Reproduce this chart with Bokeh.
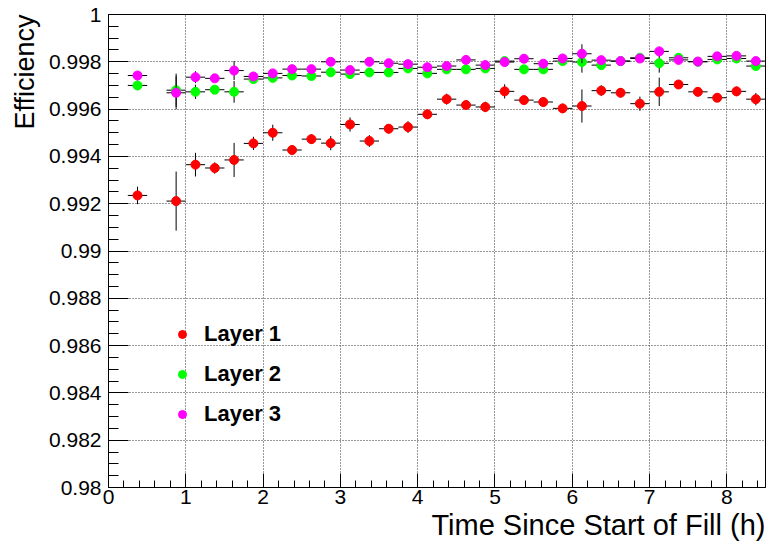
import numpy as np
from bokeh.plotting import figure
from bokeh.models import (FixedTicker, CustomJSTickFormatter, Legend, Title,
                          LegendItem, Range1d, ColumnDataSource)
from bokeh.embed import file_html
from bokeh.resources import INLINE

# ---------------- data ----------------
time_h = [0.375, 0.875, 1.125, 1.375, 1.625, 1.875, 2.125, 2.375, 2.625, 2.875,
          3.125, 3.375, 3.625, 3.875, 4.125, 4.375, 4.625, 4.875, 5.125, 5.375,
          5.625, 5.875, 6.125, 6.375, 6.625, 6.875, 7.125, 7.375, 7.625, 7.875,
          8.125, 8.375]
time_err = 0.125

layer1 = [0.99235, 0.99211, 0.99365, 0.99351, 0.99385, 0.99455, 0.99500, 0.99427,
          0.99473, 0.99456, 0.99535, 0.99465, 0.99517, 0.99524, 0.99578, 0.99642,
          0.99617, 0.99609, 0.99675, 0.99638, 0.99630, 0.99603, 0.99613, 0.99678,
          0.99669, 0.99623, 0.99673, 0.99704, 0.99673, 0.99648, 0.99675, 0.99642]
layer1_err = [0.00037, 0.00125, 0.00050, 0.00024, 0.00072, 0.00028, 0.00034, 0.00020,
              0.00020, 0.00030, 0.00030, 0.00025, 0.00020, 0.00025, 0.00020, 0.00023,
              0.00020, 0.00022, 0.00030, 0.00018, 0.00020, 0.00020, 0.00070, 0.00023,
              0.00020, 0.00030, 0.00060, 0.00018, 0.00020, 0.00018, 0.00020, 0.00026]

layer2 = [0.99700, 0.99680, 0.99673, 0.99682, 0.99673, 0.99727, 0.99732, 0.99742,
          0.99740, 0.99756, 0.99748, 0.99755, 0.99755, 0.99772, 0.99751, 0.99768,
          0.99768, 0.99772, 0.99803, 0.99768, 0.99768, 0.99803, 0.99799, 0.99786,
          0.99803, 0.99817, 0.99794, 0.99817, 0.99800, 0.99810, 0.99814, 0.99782]
layer2_err = [0.00020, 0.00070, 0.00030, 0.00012, 0.00046, 0.00012, 0.00012, 0.00012,
              0.00012, 0.00012, 0.00012, 0.00012, 0.00012, 0.00012, 0.00012, 0.00012,
              0.00012, 0.00012, 0.00012, 0.00012, 0.00012, 0.00012, 0.00045, 0.00012,
              0.00012, 0.00012, 0.00040, 0.00012, 0.00012, 0.00012, 0.00012, 0.00012]

layer3 = [0.99742, 0.99669, 0.99735, 0.99730, 0.99763, 0.99738, 0.99751, 0.99769,
          0.99769, 0.99800, 0.99765, 0.99800, 0.99794, 0.99790, 0.99777, 0.99782,
          0.99808, 0.99786, 0.99799, 0.99813, 0.99792, 0.99814, 0.99834, 0.99807,
          0.99803, 0.99814, 0.99844, 0.99808, 0.99801, 0.99823, 0.99825, 0.99803]
layer3_err = [0.00015, 0.00070, 0.00025, 0.00012, 0.00040, 0.00012, 0.00012, 0.00012,
              0.00012, 0.00012, 0.00012, 0.00012, 0.00012, 0.00012, 0.00012, 0.00012,
              0.00012, 0.00012, 0.00012, 0.00012, 0.00012, 0.00012, 0.00040, 0.00012,
              0.00012, 0.00012, 0.00020, 0.00012, 0.00012, 0.00012, 0.00012, 0.00012]

series_names = ["Layer 1", "Layer 2", "Layer 3"]
series_colors = ["#ff0000", "#00ff00", "#ff00ff"]

x_ticks = [0, 1, 2, 3, 4, 5, 6, 7, 8]
y_ticks = [0.98, 0.982, 0.984, 0.986, 0.988, 0.99, 0.992, 0.994, 0.996, 0.998, 1.0]

x_label = "Time Since Start of Fill (h)"
y_label = "Efficiency"

# ---------------- figure ----------------
FONT = "Liberation Sans"
p = figure(width=768, height=547, title=None,
           x_range=Range1d(0, 8.5), y_range=Range1d(0.98, 1.0),
           output_backend="svg", toolbar_location=None,
           min_border_left=108, min_border_right=3,
           min_border_top=14, min_border_bottom=60)
p.background_fill_color = "white"
p.border_fill_color = "white"
p.outline_line_color = "black"
p.outline_line_width = 1

x_minor = list(np.round(np.arange(0, 8.5001, 0.2), 4))
y_minor = list(np.round(np.arange(0.98, 1.00001, 0.0005), 6))
p.xaxis.ticker = FixedTicker(ticks=x_ticks, minor_ticks=x_minor)
p.yaxis.ticker = FixedTicker(ticks=y_ticks, minor_ticks=y_minor)
p.yaxis.formatter = CustomJSTickFormatter(
    code="return parseFloat(tick.toFixed(4)).toString();")

for ax in (p.xaxis, p.yaxis):
    ax.axis_line_color = "black"
    ax.major_tick_line_color = "black"
    ax.minor_tick_line_color = "black"
    ax.major_tick_out = 0
    ax.minor_tick_out = 0
    ax.major_label_text_font = FONT
    ax.major_label_text_font_size = "21px"
    ax.major_label_text_color = "black"
p.yaxis.major_tick_in = 20
p.yaxis.minor_tick_in = 10
p.xaxis.major_tick_in = 14
p.xaxis.minor_tick_in = 7
p.yaxis.major_label_standoff = 7
p.xaxis.major_label_standoff = 2

p.xgrid.ticker = FixedTicker(ticks=x_ticks)
p.ygrid.ticker = FixedTicker(ticks=y_ticks)
p.grid.grid_line_color = "#333333"
p.grid.grid_line_dash = "1 2"
p.grid.grid_line_width = 1

# ---------------- data drawing ----------------
xs = np.array(time_h)
renderers = []
for vals, errs, col in zip([layer1, layer2, layer3],
                           [layer1_err, layer2_err, layer3_err],
                           series_colors):
    v = np.array(vals)
    e = np.array(errs)
    src = ColumnDataSource(dict(x=xs, y=v,
                                xl=xs - time_err, xr=xs + time_err,
                                yl=v - e, yh=v + e))
    p.segment(x0="xl", y0="y", x1="xr", y1="y", source=src,
              line_color="black", line_width=1)
    p.segment(x0="x", y0="yl", x1="x", y1="yh", source=src,
              line_color="black", line_width=1)
    r = p.scatter(x="x", y="y", source=src, size=9, marker="circle",
                  fill_color=col, line_color=col)
    renderers.append(r)

legend = Legend(items=[LegendItem(label=n, renderers=[r])
                       for n, r in zip(series_names, renderers)],
                location=(64, 60), orientation="vertical",
                glyph_width=20, glyph_height=20, label_height=20,
                spacing=14, padding=0, margin=0, label_standoff=12,
                border_line_alpha=0, background_fill_alpha=0,
                label_text_font=FONT, label_text_font_style="bold",
                label_text_font_size="22px", label_text_color="black")
p.add_layout(legend)

p.add_layout(Title(text=x_label, align="right", standoff=0,
                   text_font=FONT, text_font_size="29px",
                   text_font_style="normal", text_color="black"), "below")
p.add_layout(Title(text=y_label, align="right", standoff=12,
                   text_font=FONT, text_font_size="27px",
                   text_font_style="normal", text_color="black"), "left")

open("out.html", "w").write(file_html(p, INLINE))
